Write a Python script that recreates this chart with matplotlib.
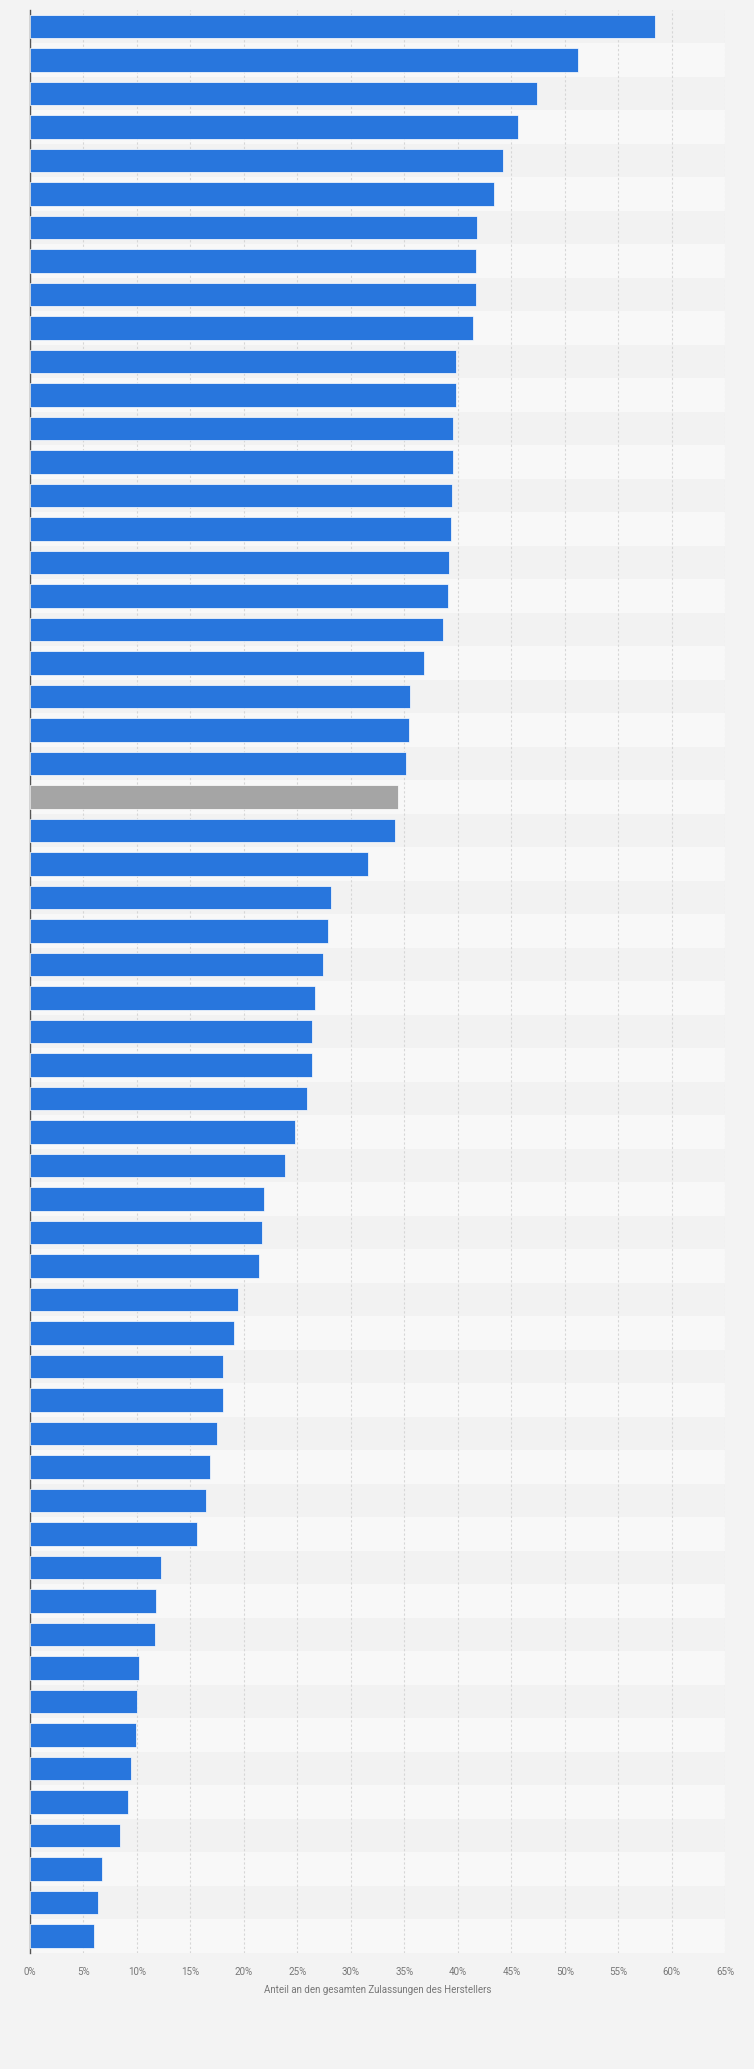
import numpy as np
import matplotlib
matplotlib.use("Agg")
import matplotlib.pyplot as plt

plt.rcParams['font.family'] = ['Roboto', 'DejaVu Sans']

# Anteil an den gesamten Zulassungen (in %), von oben nach unten
shares = [58.4, 51.2, 47.4, 45.6, 44.2, 43.35, 41.77, 41.67, 41.67, 41.39,
          39.8, 39.8, 39.52, 39.52, 39.43, 39.33, 39.21, 39.12, 38.59, 36.81,
          35.5, 35.41, 35.13, 34.38, 34.1, 31.56, 28.18, 27.9, 27.43, 26.69,
          26.41, 26.41, 25.94, 24.82, 23.88, 21.92, 21.73, 21.45, 19.49, 19.11,
          18.09, 18.08, 17.52, 16.87, 16.5, 15.65, 12.26, 11.82, 11.73, 10.23,
          10.05, 9.93, 9.49, 9.21, 8.46, 6.75, 6.4, 6.03]
# index of the highlighted (gray) bar
highlight = 23

tick_values = list(range(0, 70, 5))
tick_labels = [f"{v}%" for v in tick_values]

blue = '#2876dd'
gray = '#a5a5a5'

fig = plt.figure(figsize=(7.54, 20.69), dpi=100)
fig.patch.set_facecolor('#f3f3f3')
ax = fig.add_axes([0.0395, 0.0561, 0.9225, 0.9391])
ax.set_facecolor('#f3f3f3')

n = len(shares)
y = np.arange(n)

# alternating row bands
for i in range(n):
    ax.axhspan(i - 0.5, i + 0.5, color='#f2f2f2' if i % 2 == 0 else '#f8f8f8',
               zorder=0, lw=0)

colors = [gray if i == highlight else blue for i in range(n)]
ax.barh(y, shares, height=0.7, color=colors, edgecolor='#ffffff',
        linewidth=0.5, zorder=3)

ax.set_ylim(n - 0.5, -0.5)
ax.set_xlim(0, 65)
ax.set_xticks(tick_values)
ax.set_xticklabels(tick_labels, fontsize=7, color='#777777')
ax.set_yticks([])
ax.tick_params(axis='x', length=0, pad=10)
ax.xaxis.grid(True, color='#d6d6d6', linestyle=(0, (2, 2)), linewidth=0.8, zorder=1)
ax.set_axisbelow(True)

for s in ['top', 'right', 'bottom']:
    ax.spines[s].set_visible(False)
ax.spines['left'].set_color('#555555')
ax.spines['left'].set_linewidth(1.0)

ax.set_xlabel("Anteil an den gesamten Zulassungen des Herstellers",
              fontsize=7, color='#777777', labelpad=6)

fig.savefig('out.png', dpi=100, facecolor=fig.get_facecolor())
